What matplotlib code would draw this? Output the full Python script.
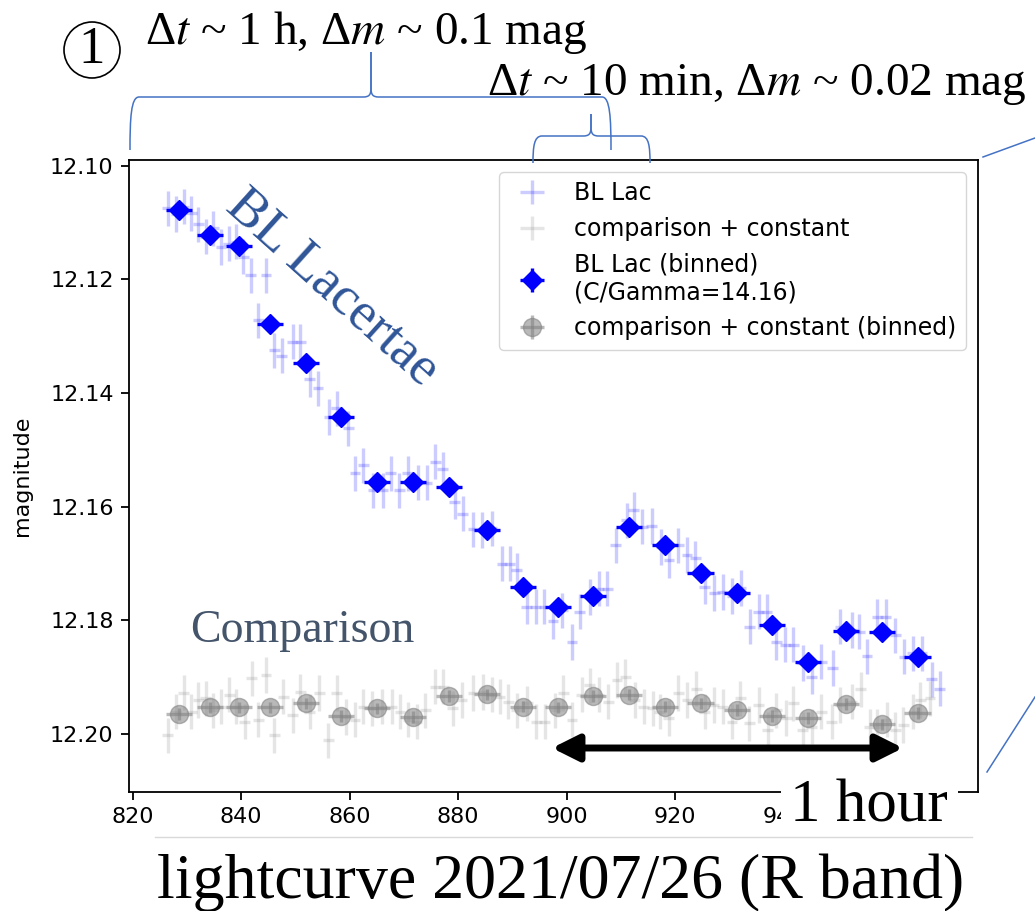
import matplotlib
matplotlib.use("Agg")
import matplotlib.pyplot as plt
from matplotlib.path import Path
from matplotlib.patches import PathPatch, Ellipse, Rectangle, FancyArrowPatch
from matplotlib.lines import Line2D

# raw photometry, BL Lac (time in minutes, R magnitude)
t_bl = [826.5, 828.0, 829.4, 830.8, 832.1, 833.5, 834.9, 836.3, 837.7, 839.1,
        840.4, 841.8, 843.2, 844.6, 846.1, 847.5, 849.5, 850.9, 852.7, 854.2,
        856.3, 857.6, 859.8, 861.0, 862.5, 864.4, 866.1, 867.6, 869.2, 870.7,
        872.7, 874.2, 875.8, 877.2, 879.4, 880.9, 882.8, 884.4, 886.2, 888.1,
        889.5, 890.8, 892.7, 894.3, 895.9, 897.5, 899.2, 901.0, 902.4, 904.3,
        906.0, 907.5, 909.1, 911.1, 912.4, 914.0, 915.7, 917.5, 918.9, 920.6,
        922.2, 923.7, 925.5, 927.2, 928.8, 930.5, 932.1, 933.8, 935.4, 936.9,
        938.7, 940.3, 941.8, 943.5, 945.2, 947.0, 949.1, 950.5, 952.6, 954.0,
        955.4, 957.3, 958.8, 960.6, 962.2, 963.8, 965.5, 967.3, 968.8]
m_bl = [12.1075, 12.1085, 12.1072, 12.1084, 12.1103, 12.1125, 12.1110, 12.1143, 12.1137, 12.1134,
        12.1160, 12.1193, 12.1272, 12.1193, 12.1325, 12.1334, 12.1310, 12.1310, 12.1376, 12.1392,
        12.1442, 12.1427, 12.1462, 12.1541, 12.1527, 12.1571, 12.1571, 12.1541, 12.1571, 12.1541,
        12.1557, 12.1558, 12.1521, 12.1534, 12.1591, 12.1612, 12.1640, 12.1641, 12.1638, 12.1700,
        12.1700, 12.1712, 12.1776, 12.1776, 12.1776, 12.1802, 12.1782, 12.1838, 12.1785, 12.1759,
        12.1744, 12.1744, 12.1668, 12.1624, 12.1605, 12.1635, 12.1634, 12.1671, 12.1694, 12.1668,
        12.1685, 12.1691, 12.1741, 12.1752, 12.1750, 12.1757, 12.1743, 12.1811, 12.1785, 12.1785,
        12.1838, 12.1843, 12.1843, 12.1875, 12.1899, 12.1873, 12.1884, 12.1811, 12.1817, 12.1820,
        12.1863, 12.1794, 12.1794, 12.1826, 12.1864, 12.1858, 12.1858, 12.1904, 12.1920]

# raw photometry, comparison star + constant
t_cmp = [826.5, 828.0, 829.4, 830.8, 832.1, 833.5, 834.9, 836.4, 837.8, 839.1,
         840.7, 842.0, 843.2, 844.6, 846.1, 847.8, 849.5, 850.9, 852.7, 854.4,
         856.1, 857.6, 859.4, 861.0, 862.5, 864.1, 866.0, 867.8, 869.3, 870.8,
         872.4, 874.0, 875.8, 877.3, 879.0, 880.7, 882.8, 884.6, 886.2, 887.7,
         889.3, 890.8, 892.8, 894.4, 896.0, 897.9, 899.4, 901.0, 902.8, 904.3,
         906.0, 907.7, 909.3, 910.8, 912.6, 914.2, 915.9, 917.2, 918.8, 920.6,
         922.2, 923.9, 925.5, 927.1, 928.8, 930.5, 932.0, 933.7, 935.4, 937.1,
         938.7, 940.5, 941.8, 943.5, 945.2, 947.0, 948.9, 950.4, 952.6, 954.2,
         955.9, 957.3, 959.0, 960.6, 962.1, 963.9, 965.2, 967.0]
m_cmp = [12.2002, 12.1961, 12.1927, 12.1961, 12.1940, 12.1937, 12.1958, 12.1952, 12.1931, 12.1952,
         12.1978, 12.1902, 12.1975, 12.1896, 12.2002, 12.1934, 12.1967, 12.1926, 12.1961, 12.1928,
         12.2011, 12.1928, 12.1970, 12.1975, 12.1952, 12.1955, 12.1952, 12.1952, 12.1961, 12.1975,
         12.1978, 12.1958, 12.1917, 12.1917, 12.1955, 12.1940, 12.1928, 12.1926, 12.1931, 12.1934,
         12.1943, 12.1958, 12.1946, 12.1978, 12.1978, 12.1958, 12.1928, 12.1975, 12.1931, 12.1914,
         12.1931, 12.1943, 12.1905, 12.1899, 12.1940, 12.1952, 12.1955, 12.1961, 12.1972, 12.1928,
         12.1940, 12.1920, 12.1961, 12.1949, 12.1952, 12.1978, 12.1937, 12.1981, 12.1949, 12.1993,
         12.1958, 12.1972, 12.1946, 12.1993, 12.1987, 12.1961, 12.1978, 12.1949, 12.1943, 12.1921,
         12.1987, 12.1987, 12.1975, 12.1993, 12.1984, 12.1961, 12.1940, 12.1937]

raw_terr = 1.0
raw_merr = 0.0031

# binned values
t_bin = [828.6, 834.2, 839.6, 845.3, 851.9, 858.4, 865.0, 871.7, 878.3, 885.3, 891.9,
         898.5, 904.9, 911.6, 918.2, 924.7, 931.4, 937.9, 944.6, 951.5, 958.1, 964.7]
m_bl_bin = [12.1078, 12.1122, 12.1141, 12.1279, 12.1348, 12.1442, 12.1557, 12.1557, 12.1566, 12.1641, 12.1741,
            12.1776, 12.1757, 12.1636, 12.1668, 12.1717, 12.1751, 12.1808, 12.1874, 12.1818, 12.1821, 12.1865]
m_cmp_bin = [12.1965, 12.1953, 12.1953, 12.1953, 12.1946, 12.1968, 12.1955, 12.1970, 12.1933, 12.1930, 12.1952,
             12.1953, 12.1933, 12.1931, 12.1952, 12.1946, 12.1958, 12.1968, 12.1972, 12.1947, 12.1983, 12.1963]
bin_terr = 2.4
bin_merr = 0.001

xticks = [820, 840, 860, 880, 900, 920, 940, 960]
# the 960 label sits under the white "1 hour" box on the slide
xticklabels = ["820", "840", "860", "880", "900", "920", "940", ""]
yticks = [12.10, 12.12, 12.14, 12.16, 12.18, 12.20]

plt.rcParams["mathtext.fontset"] = "stix"
SERIF = "Liberation Serif"
W, H = 1035, 911


def fx(x):
    return x / W


def fy(y):
    return 1 - y / H


fig = plt.figure(figsize=(W / 100, H / 100), dpi=100)
ax = fig.add_axes([fx(129), fy(792), fx(978) - fx(129), fy(160) - fy(792)])

ax.errorbar(t_bl, m_bl, xerr=raw_terr, yerr=raw_merr, fmt="none", ecolor="blue",
            alpha=0.2, elinewidth=2.4, label="BL Lac")
ax.errorbar(t_cmp, m_cmp, xerr=raw_terr, yerr=raw_merr, fmt="none", ecolor="gray",
            alpha=0.2, elinewidth=2.4, label="comparison + constant")
ax.errorbar(t_bin, m_bl_bin, xerr=bin_terr, yerr=bin_merr, fmt="D", color="blue",
            ms=10, elinewidth=2.4, label="BL Lac (binned)\n(C/Gamma=14.16)", zorder=4)
ax.errorbar(t_bin, m_cmp_bin, xerr=bin_terr, yerr=bin_merr, fmt="o", color="gray",
            alpha=0.55, ms=13, elinewidth=2.4, label="comparison + constant (binned)", zorder=3)

ax.set_xlim(819.35, 975.85)
ax.set_ylim(12.2102, 12.0990)
ax.set_xticks(xticks)
ax.set_xticklabels(xticklabels)
ax.set_yticks(yticks)
ax.set_yticklabels([f"{v:.2f}" for v in yticks])
ax.tick_params(labelsize=16, length=5.6, width=1.3, pad=5.5)
for s in ax.spines.values():
    s.set_linewidth(1.3)
ax.set_ylabel("magnitude", fontsize=16)
ax.yaxis.set_label_coords(-0.114, 0.5)
ax.legend(loc="upper right", fontsize=17)

# --- slide annotations ---
blue_line = "#4472C4"


def brace(x0, x1, xt, yb, ye, yt):
    for xe, d in ((x0, 1), (x1, -1)):
        verts = [(xe, ye), (xe, yb + 0.4 * (ye - yb)), (xe + d, yb), (xe + d * 9, yb),
                 (xt - d * 8, yb),
                 (xt - d * 2, yb), (xt, yb - 2), (xt, yb - 9),
                 (xt, yt)]
        codes = [Path.MOVETO, Path.CURVE4, Path.CURVE4, Path.CURVE4, Path.LINETO,
                 Path.CURVE4, Path.CURVE4, Path.CURVE4, Path.LINETO]
        p = Path([(fx(a), fy(b)) for a, b in verts], codes)
        fig.add_artist(PathPatch(p, fill=False, ec=blue_line, lw=1.1,
                                 transform=fig.transFigure, zorder=4))


brace(130, 611, 371, 97, 150, 52)
brace(533, 650, 591, 136, 163, 114)

for (xa, ya), (xb, yb_) in (((983, 157), (1035, 138)), ((987, 772), (1035, 697))):
    fig.add_artist(Line2D([fx(xa), fx(xb)], [fy(ya), fy(yb_)], color=blue_line, lw=1.1,
                          transform=fig.transFigure))

fig.add_artist(Ellipse((fx(92), fy(50)), 56 / W, 56 / H, fill=False, ec="black", lw=1.2,
                       transform=fig.transFigure))
fig.text(fx(92), fy(50), "1", fontsize=38, family=SERIF, ha="center", va="center")

fig.text(fx(145), fy(44), "Δ$t$ ~ 1 h, Δ$m$ ~ 0.1 mag", fontsize=34, family=SERIF,
         ha="left", va="baseline")
fig.text(fx(487), fy(95), "Δ$t$ ~ 10 min, Δ$m$ ~ 0.02 mag", fontsize=34, family=SERIF,
         ha="left", va="baseline")

fig.text(fx(332), fy(288), "BL Lacertae", fontsize=39, family=SERIF, color="#2F5597",
         rotation=-42, rotation_mode="anchor", ha="center", va="center")
fig.text(fx(190), fy(642), "Comparison", fontsize=33, family=SERIF, color="#44546A",
         ha="left", va="baseline")

fig.add_artist(FancyArrowPatch((fx(552), fy(748)), (fx(903), fy(748)),
                               transform=fig.transFigure, shrinkA=0, shrinkB=0,
                               arrowstyle="<|-|>,head_length=0.8,head_width=0.4",
                               mutation_scale=20, lw=5, color="black", zorder=5))

fig.add_artist(Rectangle((fx(781), fy(835)), (958 - 781) / W, (835 - 783) / H,
                         fc="white", ec="none", transform=fig.transFigure, zorder=5))
fig.text(fx(790), fy(822), "1 hour", fontsize=44, family=SERIF, ha="left",
         va="baseline", zorder=6)
fig.add_artist(Line2D([fx(155), fx(972)], [fy(836.5), fy(836.5)], color="#d9d9d9", lw=1,
                      transform=fig.transFigure, zorder=6))

fig.text(fx(157), fy(898), "lightcurve 2021/07/26 (R band)", fontsize=46, family=SERIF,
         ha="left", va="baseline")

fig.savefig("out.png", dpi=100)
